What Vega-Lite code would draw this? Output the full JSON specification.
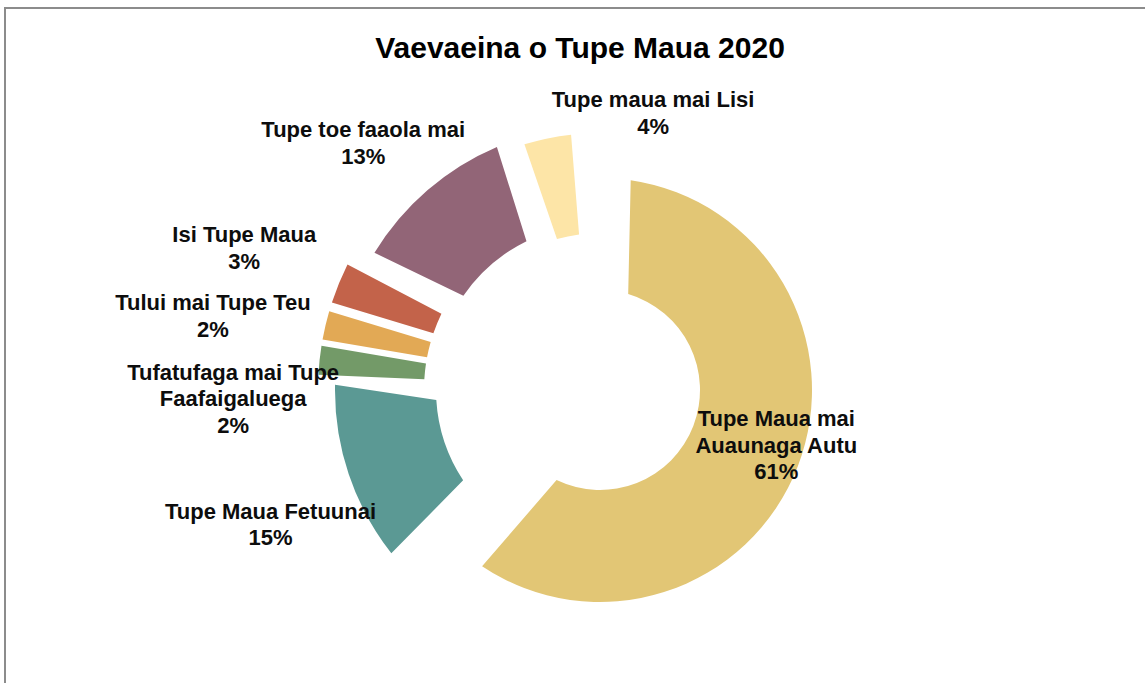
{
  "$schema": "https://vega.github.io/schema/vega-lite/v6.json",
  "width": 1190,
  "height": 764,
  "autosize": {"type": "none"},
  "padding": {"left": 5, "top": 8, "right": -50, "bottom": -89},
  "background": "white",
  "view": {"stroke": "#8c8c8c", "strokeWidth": 2, "fill": "white"},
  "title": {
    "text": "Vaevaeina o Tupe Maua 2020",
    "anchor": "middle",
    "frame": "group",
    "orient": "top",
    "offset": -51,
    "dy": 29,
    "dx": -20,
    "baseline": "alphabetic",
    "font": "Liberation Sans",
    "fontSize": 30,
    "fontWeight": "bold",
    "color": "#000000"
  },
  "config": {
    "text": {
      "font": "Liberation Sans",
      "fontWeight": "bold",
      "fontSize": 22,
      "lineHeight": 26.5,
      "lineBreak": "\n",
      "align": "center",
      "baseline": "middle",
      "fill": "#0d0d0d"
    },
    "arc": {"stroke": null}
  },
  "resolve": {"scale": {"theta": "independent"}},
  "data": {
    "values": [
      {"cat": "Tupe Maua mai\nAuaunaga Autu", "value": 61, "o": 1},
      {"cat": "Tupe Maua Fetuunai", "value": 15, "o": 2},
      {"cat": "Tufatufaga mai Tupe\nFaafaigaluega", "value": 2, "o": 3},
      {"cat": "Tului mai Tupe Teu", "value": 2, "o": 4},
      {"cat": "Isi Tupe Maua", "value": 3, "o": 5},
      {"cat": "Tupe toe faaola mai", "value": 13, "o": 6},
      {"cat": "Tupe maua mai Lisi", "value": 4, "o": 7}
    ]
  },
  "transform": [
    {"stack": "value", "groupby": [], "sort": [{"field": "o", "order": "ascending"}], "as": ["s0", "s1"]},
    {"calculate": "(datum.s0 + datum.s1) / 2", "as": "mid"},
    {"calculate": "datum.cat + '\\n' + datum.value + '%'", "as": "lbl"}
  ],
  "layer": [
    {
      "transform": [{"filter": "datum.o == 1"}],
      "mark": {"type": "arc", "innerRadius": 100, "outerRadius": 212, "padAngle": 0.223},
      "encoding": {
        "theta": {"field": "s0", "type": "quantitative", "stack": null, "scale": {"domain": [0, 100], "range": [0.022, 6.3052]}},
        "theta2": {"field": "s1"},
        "color": {"field": "cat", "type": "nominal", "legend": null,
          "scale": {"domain": ["Tupe Maua mai\nAuaunaga Autu", "Tupe Maua Fetuunai", "Tufatufaga mai Tupe\nFaafaigaluega", "Tului mai Tupe Teu", "Isi Tupe Maua", "Tupe toe faaola mai", "Tupe maua mai Lisi"],
                    "range": ["#E2C675", "#5B9994", "#739A68", "#E2A955", "#C3634A", "#926577", "#FDE5A7"]}}
      }
    },
    {
      "transform": [{"filter": "datum.o == 2"}],
      "mark": {"type": "arc", "innerRadius": 164, "outerRadius": 265, "padAngle": 0.22},
      "encoding": {
        "theta": {"field": "s0", "type": "quantitative", "stack": null, "scale": {"domain": [0, 100], "range": [0.086, 6.3692]}},
        "theta2": {"field": "s1"},
        "color": {"field": "cat", "type": "nominal", "legend": null}
      }
    },
    {
      "transform": [{"filter": "datum.o == 6"}],
      "mark": {"type": "arc", "innerRadius": 166, "outerRadius": 264, "padAngle": 0.164},
      "encoding": {
        "theta": {"field": "s0", "type": "quantitative", "stack": null, "scale": {"domain": [0, 100], "range": [-0.053, 6.2302]}},
        "theta2": {"field": "s1"},
        "color": {"field": "cat", "type": "nominal", "legend": null}
      }
    },
    {
      "transform": [{"filter": "datum.o == 7"}],
      "mark": {"type": "arc", "innerRadius": 157, "outerRadius": 257, "padAngle": 0.056},
      "encoding": {
        "theta": {"field": "s0", "type": "quantitative", "stack": null, "scale": {"domain": [0, 100], "range": [-0.08, 6.2032]}},
        "theta2": {"field": "s1"},
        "color": {"field": "cat", "type": "nominal", "legend": null}
      }
    },
    {
      "transform": [{"filter": "datum.o == 5"}],
      "mark": {"type": "arc", "innerRadius": 176, "outerRadius": 282, "padAngle": 0.036},
      "encoding": {
        "theta": {"field": "s0", "type": "quantitative", "stack": null, "scale": {"domain": [0, 100], "range": [-0.02, 6.2632]}},
        "theta2": {"field": "s1"},
        "color": {"field": "cat", "type": "nominal", "legend": null}
      }
    },
    {
      "transform": [{"filter": "datum.o == 3 || datum.o == 4"}],
      "mark": {"type": "arc", "innerRadius": 176, "outerRadius": 282, "padAngle": 0.019},
      "encoding": {
        "theta": {"field": "s0", "type": "quantitative", "stack": null, "scale": {"domain": [0, 100], "range": [-0.02, 6.2632]}},
        "theta2": {"field": "s1"},
        "color": {"field": "cat", "type": "nominal", "legend": null}
      }
    },
    {
      "transform": [{"filter": "datum.o == 1"}],
      "mark": {"type": "text", "radius": 185, "thetaOffset": -0.0375, "dy": -27},
      "encoding": {"theta": {"field": "mid", "type": "quantitative", "stack": null, "scale": {"domain": [0, 100]}}, "text": {"field": "lbl"}}
    },
    {
      "transform": [{"filter": "datum.o == 2"}],
      "mark": {"type": "text", "radius": 356, "thetaOffset": 0.02, "dy": -13},
      "encoding": {"theta": {"field": "mid", "type": "quantitative", "stack": null, "scale": {"domain": [0, 100]}}, "text": {"field": "lbl"}}
    },
    {
      "transform": [{"filter": "datum.o == 3"}],
      "mark": {"type": "text", "radius": 367, "thetaOffset": -0.155, "dy": -28},
      "encoding": {"theta": {"field": "mid", "type": "quantitative", "stack": null, "scale": {"domain": [0, 100]}}, "text": {"field": "lbl"}}
    },
    {
      "transform": [{"filter": "datum.o == 4"}],
      "mark": {"type": "text", "radius": 394, "thetaOffset": -0.063, "dy": -13},
      "encoding": {"theta": {"field": "mid", "type": "quantitative", "stack": null, "scale": {"domain": [0, 100]}}, "text": {"field": "lbl"}}
    },
    {
      "transform": [{"filter": "datum.o == 5"}],
      "mark": {"type": "text", "radius": 383, "thetaOffset": -0.029, "dy": -13},
      "encoding": {"theta": {"field": "mid", "type": "quantitative", "stack": null, "scale": {"domain": [0, 100]}}, "text": {"field": "lbl"}}
    },
    {
      "transform": [{"filter": "datum.o == 6"}],
      "mark": {"type": "text", "radius": 342, "thetaOffset": -0.105, "dy": -13},
      "encoding": {"theta": {"field": "mid", "type": "quantitative", "stack": null, "scale": {"domain": [0, 100]}}, "text": {"field": "lbl"}}
    },
    {
      "transform": [{"filter": "datum.o == 7"}],
      "mark": {"type": "text", "radius": 282, "thetaOffset": 0.315, "dy": -13},
      "encoding": {"theta": {"field": "mid", "type": "quantitative", "stack": null, "scale": {"domain": [0, 100]}}, "text": {"field": "lbl"}}
    }
  ]
}
